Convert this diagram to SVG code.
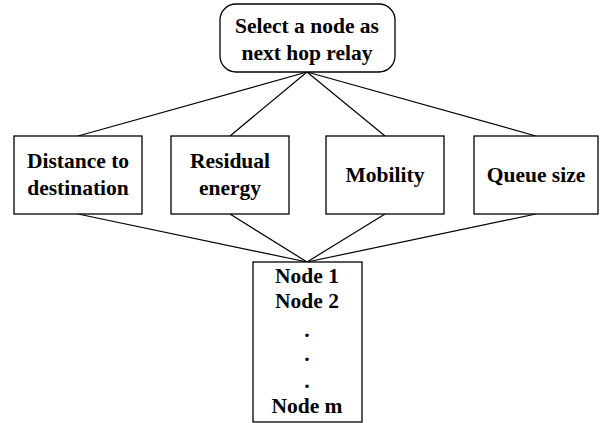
<svg xmlns="http://www.w3.org/2000/svg" width="603" height="423" viewBox="0 0 603 423">
<style>
.box{fill:#fff;stroke:#000;stroke-width:1.3}
.ln{stroke:#000;stroke-width:1.2;fill:none}
.t{font-family:'Liberation Serif','Times New Roman','DejaVu Serif',serif;font-weight:bold;font-size:21.5px;fill:#000;text-anchor:middle}
</style>
<rect width="603" height="423" fill="#fff"/>
<g id="connectors">
<line class="ln" x1="307" y1="72" x2="78" y2="136"/>
<line class="ln" x1="307" y1="72" x2="230" y2="136"/>
<line class="ln" x1="307" y1="72" x2="385" y2="136"/>
<line class="ln" x1="307" y1="72" x2="536" y2="136"/>
<line class="ln" x1="78" y1="214" x2="307" y2="262"/>
<line class="ln" x1="230" y1="214" x2="307" y2="262"/>
<line class="ln" x1="385" y1="214" x2="307" y2="262"/>
<line class="ln" x1="536" y1="214" x2="307" y2="262"/>
</g>
<g id="select">
<rect class="box" x="220" y="4" width="175" height="68" rx="16" ry="16"/>
<text class="t" x="307" y="33">Select a node as</text>
<text class="t" x="307" y="60">next hop relay</text>
</g>
<g id="distance">
<rect class="box" x="14" y="136" width="128" height="78"/>
<text class="t" x="78" y="168">Distance to</text>
<text class="t" x="78" y="195">destination</text>
</g>
<g id="residual">
<rect class="box" x="171" y="136" width="118" height="78"/>
<text class="t" x="230" y="168">Residual</text>
<text class="t" x="230" y="195">energy</text>
</g>
<g id="mobility">
<rect class="box" x="326" y="136" width="118" height="78"/>
<text class="t" x="385" y="182">Mobility</text>
</g>
<g id="queue">
<rect class="box" x="474" y="136" width="124" height="78"/>
<text class="t" x="536" y="182">Queue size</text>
</g>
<g id="nodes">
<rect class="box" x="253" y="262" width="109" height="160"/>
<text class="t" x="307" y="283">Node 1</text>
<text class="t" x="307" y="308">Node 2</text>
<text class="t" x="307" y="337">.</text>
<text class="t" x="307" y="361">.</text>
<text class="t" x="307" y="388">.</text>
<text class="t" x="307" y="413">Node m</text>
</g>
</svg>
